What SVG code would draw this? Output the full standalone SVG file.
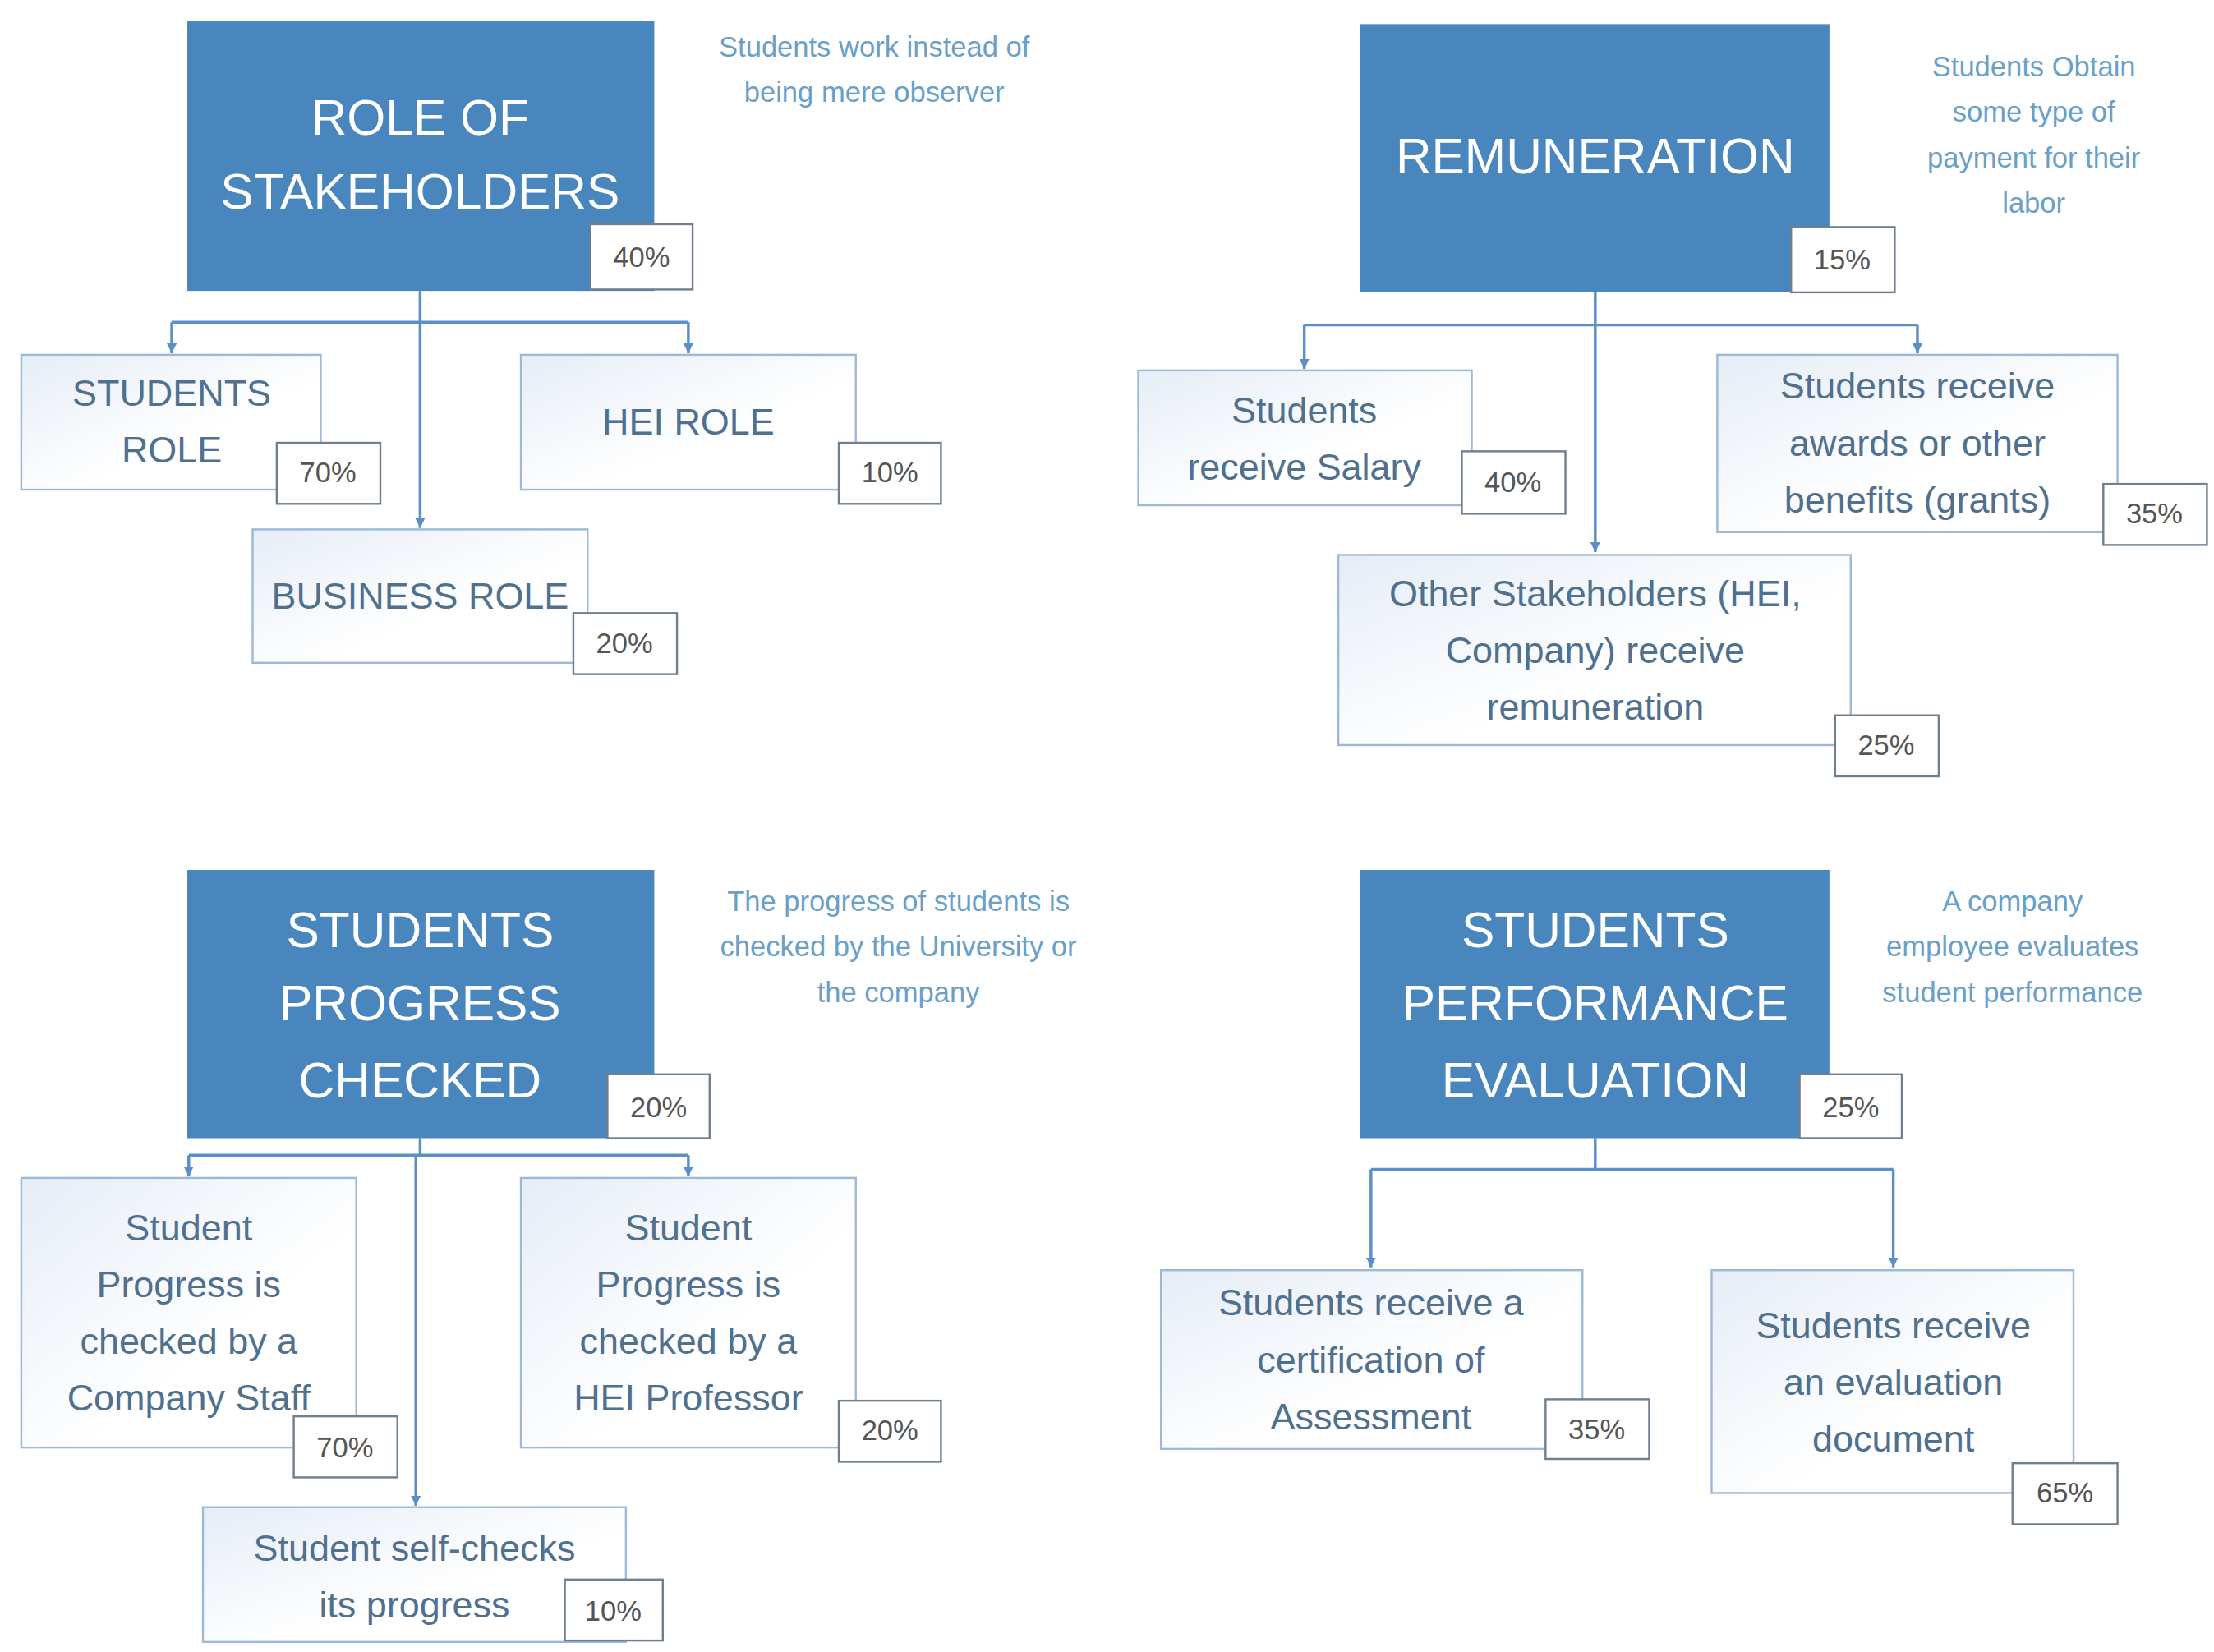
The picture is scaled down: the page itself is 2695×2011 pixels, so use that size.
<svg xmlns="http://www.w3.org/2000/svg" width="2695" height="2011" viewBox="0 0 2695 2011">
<defs>
<linearGradient id="bg" x1="0" y1="0" x2="1" y2="1"><stop offset="0" stop-color="#e6edf6"/><stop offset="0.6" stop-color="#ffffff"/></linearGradient>
<marker id="ar" viewBox="0 0 10 10" refX="10" refY="5" markerWidth="7" markerHeight="7" markerUnits="userSpaceOnUse" orient="auto"><path d="M0,0 L10,5 L0,10 z" fill="#5b8fc7"/></marker>
<style>
.hd{fill:#4a86be}
.hdt{fill:#fff;font-family:"Liberation Sans",sans-serif;font-size:35px;text-anchor:middle;dominant-baseline:central}
.bx{fill:url(#bg);stroke:#9cb9d8;stroke-width:1.4}
.bt{fill:#50708f;font-family:"Liberation Sans",sans-serif;font-size:26px;text-anchor:middle;dominant-baseline:central}
.pc{fill:#fff;stroke:#6f7f8f;stroke-width:1.4}
.pt{fill:#555;font-family:"Liberation Sans",sans-serif;font-size:20px;text-anchor:middle;dominant-baseline:central}
.nt{fill:#6aa0c8;font-family:"Liberation Sans",sans-serif;font-size:20px;text-anchor:middle;dominant-baseline:central}
.ln{fill:none;stroke:#5b8fc7;stroke-width:2}
.ar{marker-end:url(#ar)}
</style>
</defs>
<rect width="2695" height="2011" fill="#fff"/>
<g transform="scale(1.7276)">
<g id="connectors">
<path class="ln ar" d="M296,205 V372"/>
<path class="ln" d="M121,227 H485"/>
<path class="ln ar" d="M121,227 V249"/>
<path class="ln ar" d="M485,227 V249"/>
<path class="ln ar" d="M1124,206 V389"/>
<path class="ln" d="M919,229 H1351"/>
<path class="ln ar" d="M919,229 V260"/>
<path class="ln ar" d="M1351,229 V249"/>
<path class="ln" d="M296,802 V814"/>
<path class="ln ar" d="M293,814 V1061"/>
<path class="ln" d="M133,814 H485"/>
<path class="ln ar" d="M133,814 V829"/>
<path class="ln ar" d="M485,814 V829"/>
<path class="ln" d="M1124,802 V824 M966,824 H1334"/>
<path class="ln ar" d="M966,824 V893"/>
<path class="ln ar" d="M1334,824 V893"/>
</g>
<g id="n-role"><rect class="hd" x="132" y="15" width="329" height="190"/><text class="hdt" x="296" y="83">ROLE OF</text><text class="hdt" x="296" y="135">STAKEHOLDERS</text><rect class="pc" x="416" y="158" width="72" height="46"/><text class="pt" x="452" y="181">40%</text></g>
<g id="note1"><text class="nt" x="616" y="33">Students work instead of</text><text class="nt" x="616" y="65">being mere observer</text></g>
<g id="n-students-role"><rect class="bx" x="15" y="250" width="211" height="95"/><text class="bt" x="121" y="277">STUDENTS</text><text class="bt" x="121" y="317">ROLE</text><rect class="pc" x="195" y="312" width="73" height="43"/><text class="pt" x="231" y="333">70%</text></g>
<g id="n-hei-role"><rect class="bx" x="367" y="250" width="236" height="95"/><text class="bt" x="485" y="297">HEI ROLE</text><rect class="pc" x="591" y="312" width="72" height="43"/><text class="pt" x="627" y="333">10%</text></g>
<g id="n-business-role"><rect class="bx" x="178" y="373" width="236" height="94"/><text class="bt" x="296" y="420">BUSINESS ROLE</text><rect class="pc" x="404" y="432" width="73" height="43"/><text class="pt" x="440" y="453">20%</text></g>

<g id="n-remun"><rect class="hd" x="958" y="17" width="331" height="189"/><text class="hdt" x="1124" y="110">REMUNERATION</text><rect class="pc" x="1262" y="160" width="73" height="46"/><text class="pt" x="1298" y="183">15%</text></g>
<g id="note2"><text class="nt" x="1433" y="47">Students Obtain</text><text class="nt" x="1433" y="79">some type of</text><text class="nt" x="1433" y="111">payment for their</text><text class="nt" x="1433" y="143">labor</text></g>
<g id="n-salary"><rect class="bx" x="802" y="261" width="235" height="95"/><text class="bt" x="919" y="289">Students</text><text class="bt" x="919" y="329">receive Salary</text><rect class="pc" x="1030" y="318" width="73" height="44"/><text class="pt" x="1066" y="340">40%</text></g>
<g id="n-awards"><rect class="bx" x="1210" y="250" width="282" height="125"/><text class="bt" x="1351" y="272">Students receive</text><text class="bt" x="1351" y="312">awards or other</text><text class="bt" x="1351" y="352">benefits (grants)</text><rect class="pc" x="1482" y="341" width="73" height="43"/><text class="pt" x="1518" y="362">35%</text></g>
<g id="n-other"><rect class="bx" x="943" y="391" width="361" height="134"/><text class="bt" x="1124" y="418">Other Stakeholders (HEI,</text><text class="bt" x="1124" y="458">Company) receive</text><text class="bt" x="1124" y="498">remuneration</text><rect class="pc" x="1293" y="504" width="73" height="43"/><text class="pt" x="1329" y="525">25%</text></g>

<g id="n-progress"><rect class="hd" x="132" y="613" width="329" height="189"/><text class="hdt" x="296" y="655">STUDENTS</text><text class="hdt" x="296" y="707">PROGRESS</text><text class="hdt" x="296" y="761">CHECKED</text><rect class="pc" x="428" y="757" width="72" height="45"/><text class="pt" x="464" y="780">20%</text></g>
<g id="note3"><text class="nt" x="633" y="635">The progress of students is</text><text class="nt" x="633" y="667">checked by the University or</text><text class="nt" x="633" y="699">the company</text></g>
<g id="n-company-staff"><rect class="bx" x="15" y="830" width="236" height="190"/><text class="bt" x="133" y="865">Student</text><text class="bt" x="133" y="905">Progress is</text><text class="bt" x="133" y="945">checked by a</text><text class="bt" x="133" y="985">Company Staff</text><rect class="pc" x="207" y="998" width="73" height="43"/><text class="pt" x="243" y="1020">70%</text></g>
<g id="n-hei-prof"><rect class="bx" x="367" y="830" width="236" height="190"/><text class="bt" x="485" y="865">Student</text><text class="bt" x="485" y="905">Progress is</text><text class="bt" x="485" y="945">checked by a</text><text class="bt" x="485" y="985">HEI Professor</text><rect class="pc" x="591" y="987" width="72" height="43"/><text class="pt" x="627" y="1008">20%</text></g>
<g id="n-self"><rect class="bx" x="143" y="1062" width="298" height="95"/><text class="bt" x="292" y="1091">Student self-checks</text><text class="bt" x="292" y="1131">its progress</text><rect class="pc" x="398" y="1113" width="69" height="43"/><text class="pt" x="432" y="1135">10%</text></g>

<g id="n-perf"><rect class="hd" x="958" y="613" width="331" height="189"/><text class="hdt" x="1124" y="655">STUDENTS</text><text class="hdt" x="1124" y="707">PERFORMANCE</text><text class="hdt" x="1124" y="761">EVALUATION</text><rect class="pc" x="1268" y="757" width="72" height="45"/><text class="pt" x="1304" y="780">25%</text></g>
<g id="note4"><text class="nt" x="1418" y="635">A company</text><text class="nt" x="1418" y="667">employee evaluates</text><text class="nt" x="1418" y="699">student performance</text></g>
<g id="n-cert"><rect class="bx" x="818" y="895" width="297" height="126"/><text class="bt" x="966" y="918">Students receive a</text><text class="bt" x="966" y="958">certification of</text><text class="bt" x="966" y="998">Assessment</text><rect class="pc" x="1089" y="986" width="73" height="42"/><text class="pt" x="1125" y="1007">35%</text></g>
<g id="n-evaldoc"><rect class="bx" x="1206" y="895" width="255" height="157"/><text class="bt" x="1334" y="934">Students receive</text><text class="bt" x="1334" y="974">an evaluation</text><text class="bt" x="1334" y="1014">document</text><rect class="pc" x="1418" y="1031" width="74" height="43"/><text class="pt" x="1455" y="1052">65%</text></g>
</g>
</svg>
